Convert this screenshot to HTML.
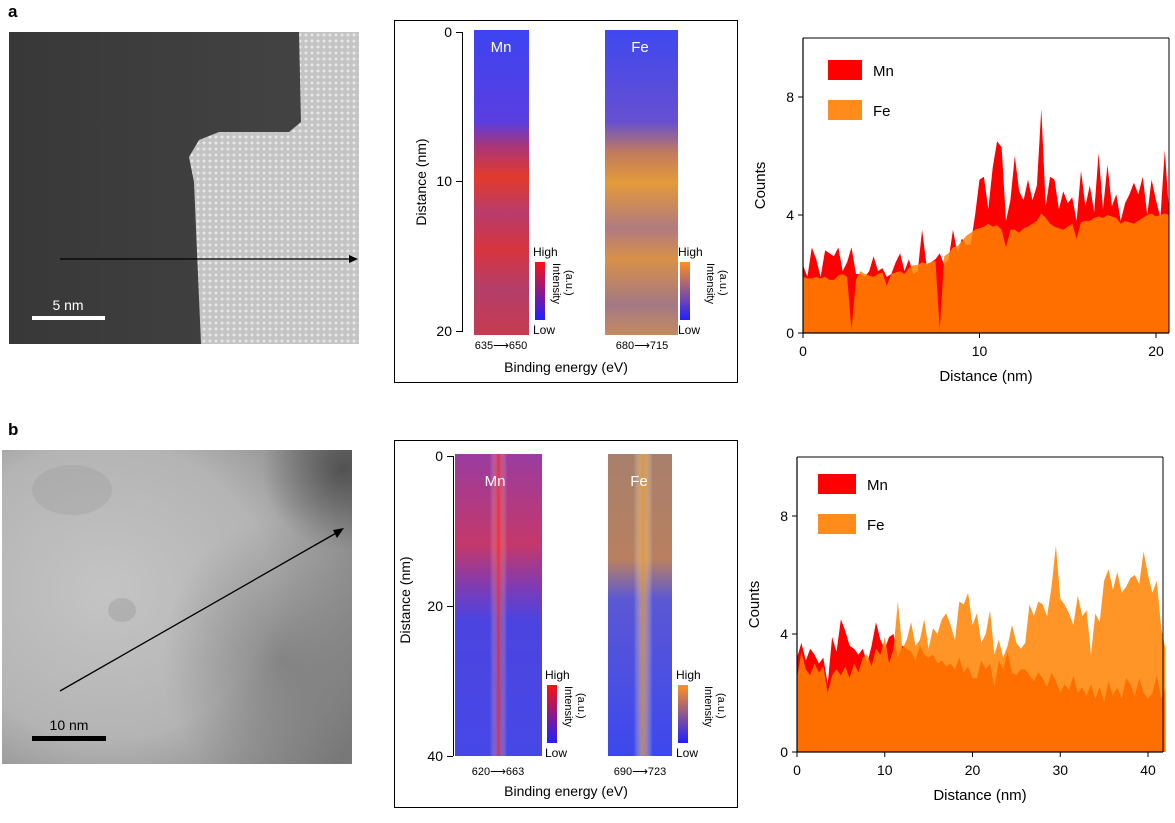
<!DOCTYPE html>
<html><head><meta charset="utf-8"><style>
body{margin:0;background:#fff;font-family:"Liberation Sans",sans-serif;}
#root{position:relative;width:1175px;height:823px;overflow:hidden;}
.abs{position:absolute;}
</style></head><body>
<div id="root">
<div class="abs" style="left:8px;top:2px;font-weight:bold;font-size:17px">a</div>
<div class="abs" style="left:8px;top:420px;font-weight:bold;font-size:17px">b</div>

<svg class="abs" style="left:9px;top:32px" width="350" height="312">
<defs>
<pattern id="lat" width="6" height="6" patternUnits="userSpaceOnUse"><rect width="6" height="6" fill="#c4c4c4"/><circle cx="3" cy="3" r="1.5" fill="#e8e8e8"/></pattern>
<linearGradient id="dk" x1="0" x2="1"><stop offset="0" stop-color="#383838"/><stop offset="1" stop-color="#454545"/></linearGradient>
</defs>
<rect width="350" height="312" fill="url(#dk)"/>
<path d="M290,0 L350,0 L350,312 L192,312 L185,150 L180,125 L190,108 L210,100 L280,100 L292,90 Z" fill="url(#lat)"/>
<line x1="51" y1="227" x2="343" y2="227" stroke="#000" stroke-width="1.3"/>
<path d="M349,227 L340,223 L340,231 Z" fill="#000"/>
<rect x="23" y="284" width="73" height="4" fill="#fff"/>
<text x="59" y="278" fill="#fff" font-size="14" text-anchor="middle" font-family="Liberation Sans">5 nm</text>
</svg>

<svg class="abs" style="left:2px;top:450px" width="350" height="314">
<defs>
<radialGradient id="lg" cx="0.3" cy="0.45" r="0.85"><stop offset="0" stop-color="#c4c4c4"/><stop offset="0.55" stop-color="#b4b4b4"/><stop offset="1" stop-color="#7a7a7a"/></radialGradient>
<radialGradient id="dr" cx="0.5" cy="0.5" r="0.5"><stop offset="0" stop-color="#606060" stop-opacity="0.5"/><stop offset="1" stop-color="#606060" stop-opacity="0"/></radialGradient>
<radialGradient id="dr2" cx="0.5" cy="0.5" r="0.5"><stop offset="0" stop-color="#303030" stop-opacity="0.6"/><stop offset="1" stop-color="#303030" stop-opacity="0"/></radialGradient>
</defs>
<rect width="350" height="314" fill="url(#lg)"/>
<ellipse cx="280" cy="210" rx="120" ry="140" fill="url(#dr)"/>
<ellipse cx="340" cy="20" rx="80" ry="80" fill="url(#dr2)"/>
<ellipse cx="120" cy="160" rx="14" ry="12" fill="#8a8a8a" opacity="0.3"/>
<ellipse cx="70" cy="40" rx="40" ry="25" fill="#999" opacity="0.3"/>
<line x1="58" y1="241" x2="336" y2="82" stroke="#000" stroke-width="1.3"/>
<path d="M342,78 L331,80 L335,88 Z" fill="#000"/>
<rect x="30" y="286" width="74" height="5" fill="#000"/>
<text x="67" y="280" fill="#000" font-size="14" text-anchor="middle" font-family="Liberation Sans">10 nm</text>
</svg>

<svg class="abs" style="left:0;top:0" width="1175" height="823">
<defs>
<linearGradient id="mnA" x1="0" y1="0" x2="0" y2="1">
<stop offset="0" stop-color="#3d44f2"/><stop offset="0.3" stop-color="#5a3ee0"/><stop offset="0.38" stop-color="#a8357a"/><stop offset="0.48" stop-color="#e23a2c"/><stop offset="0.6" stop-color="#b83c6a"/><stop offset="0.72" stop-color="#d6343e"/><stop offset="0.85" stop-color="#b33e6a"/><stop offset="1" stop-color="#c83a50"/></linearGradient>
<linearGradient id="feA" x1="0" y1="0" x2="0" y2="1">
<stop offset="0" stop-color="#3f48f0"/><stop offset="0.3" stop-color="#6650d0"/><stop offset="0.4" stop-color="#c07a60"/><stop offset="0.5" stop-color="#e49a3a"/><stop offset="0.65" stop-color="#b07a80"/><stop offset="0.75" stop-color="#d89048"/><stop offset="0.9" stop-color="#a47884"/><stop offset="1" stop-color="#c48a60"/></linearGradient>
<linearGradient id="mnB" x1="0" y1="0" x2="0" y2="1">
<stop offset="0" stop-color="#9a3ca0"/><stop offset="0.3" stop-color="#c4386a"/><stop offset="0.45" stop-color="#7a3cb8"/><stop offset="0.55" stop-color="#4c44e0"/><stop offset="1" stop-color="#4648e6"/></linearGradient>
<linearGradient id="feB" x1="0" y1="0" x2="0" y2="1">
<stop offset="0" stop-color="#a8806c"/><stop offset="0.35" stop-color="#b88060"/><stop offset="0.48" stop-color="#5c58d4"/><stop offset="1" stop-color="#3c48ee"/></linearGradient>
<linearGradient id="vstripe" x1="0" y1="0" x2="1" y2="0">
<stop offset="0" stop-color="#fff" stop-opacity="0"/><stop offset="0.4" stop-color="#fff" stop-opacity="0"/><stop offset="0.5" stop-color="#ff3020" stop-opacity="0.6"/><stop offset="0.6" stop-color="#fff" stop-opacity="0"/></linearGradient>
<linearGradient id="vstripeO" x1="0" y1="0" x2="1" y2="0">
<stop offset="0" stop-color="#fff" stop-opacity="0"/><stop offset="0.4" stop-color="#fff" stop-opacity="0"/><stop offset="0.55" stop-color="#f0a030" stop-opacity="0.7"/><stop offset="0.7" stop-color="#fff" stop-opacity="0"/></linearGradient>
<linearGradient id="cbR" x1="0" y1="0" x2="0" y2="1"><stop offset="0" stop-color="#ff1010"/><stop offset="1" stop-color="#2020ff"/></linearGradient>
<linearGradient id="cbO" x1="0" y1="0" x2="0" y2="1"><stop offset="0" stop-color="#ff9020"/><stop offset="1" stop-color="#2020ff"/></linearGradient>
</defs>
<g>
<rect x="394.5" y="20.5" width="343" height="362" fill="none" stroke="#000"/>
<rect x="474" y="30" width="55" height="305" fill="url(#mnA)"/>
<rect x="605" y="30" width="73" height="305" fill="url(#feA)"/>
<line x1="462.5" y1="32" x2="462.5" y2="332" stroke="#000"/>
<line x1="456" y1="32.5" x2="462" y2="32.5" stroke="#000"/><line x1="456" y1="181.5" x2="462" y2="181.5" stroke="#000"/><line x1="456" y1="331.5" x2="462" y2="331.5" stroke="#000"/>
<text x="452" y="37" font-size="14" text-anchor="end">0</text><text x="452" y="186" font-size="14" text-anchor="end">10</text><text x="452" y="336" font-size="14" text-anchor="end">20</text>
<text transform="translate(426,182) rotate(-90)" font-size="14" text-anchor="middle">Distance (nm)</text>
<text x="501" y="52" font-size="15" fill="#fff" text-anchor="middle">Mn</text>
<text x="640" y="52" font-size="15" fill="#fff" text-anchor="middle">Fe</text>
<text x="501" y="349" font-size="11" text-anchor="middle">635⟶650</text>
<text x="642" y="349" font-size="11" text-anchor="middle">680⟶715</text>
<text x="566" y="372" font-size="14" text-anchor="middle">Binding energy (eV)</text>
<rect x="535" y="262" width="10" height="58" fill="url(#cbR)"/>
<text x="533" y="256" font-size="12">High</text><text x="533" y="334" font-size="12">Low</text>
<text transform="translate(553,263) rotate(90)" font-size="11">Intensity</text><text transform="translate(566,270) rotate(90)" font-size="11">(a.u.)</text>
<rect x="680" y="262" width="10" height="58" fill="url(#cbO)"/>
<text x="678" y="256" font-size="12">High</text><text x="678" y="334" font-size="12">Low</text>
<text transform="translate(707,263) rotate(90)" font-size="11">Intensity</text><text transform="translate(720,270) rotate(90)" font-size="11">(a.u.)</text>
</g>
<g>
<rect x="394.5" y="440.5" width="343" height="367" fill="none" stroke="#000"/>
<rect x="455" y="454" width="87" height="302" fill="url(#mnB)"/>
<rect x="455" y="454" width="87" height="302" fill="url(#vstripe)"/>
<rect x="608" y="454" width="64" height="302" fill="url(#feB)"/>
<rect x="608" y="454" width="64" height="302" fill="url(#vstripeO)"/>
<line x1="453.5" y1="456" x2="453.5" y2="756" stroke="#000"/>
<line x1="447" y1="456.5" x2="453" y2="456.5" stroke="#000"/><line x1="447" y1="606.5" x2="453" y2="606.5" stroke="#000"/><line x1="447" y1="756.5" x2="453" y2="756.5" stroke="#000"/>
<text x="443" y="461" font-size="14" text-anchor="end">0</text><text x="443" y="611" font-size="14" text-anchor="end">20</text><text x="443" y="761" font-size="14" text-anchor="end">40</text>
<text transform="translate(410,600) rotate(-90)" font-size="14" text-anchor="middle">Distance (nm)</text>
<text x="495" y="486" font-size="15" fill="#fff" text-anchor="middle">Mn</text>
<text x="639" y="486" font-size="15" fill="#fff" text-anchor="middle">Fe</text>
<text x="498" y="775" font-size="11" text-anchor="middle">620⟶663</text>
<text x="640" y="775" font-size="11" text-anchor="middle">690⟶723</text>
<text x="566" y="796" font-size="14" text-anchor="middle">Binding energy (eV)</text>
<rect x="547" y="685" width="10" height="58" fill="url(#cbR)"/>
<text x="545" y="679" font-size="12">High</text><text x="545" y="757" font-size="12">Low</text>
<text transform="translate(565,686) rotate(90)" font-size="11">Intensity</text><text transform="translate(578,693) rotate(90)" font-size="11">(a.u.)</text>
<rect x="678" y="685" width="10" height="58" fill="url(#cbO)"/>
<text x="676" y="679" font-size="12">High</text><text x="676" y="757" font-size="12">Low</text>
<text transform="translate(705,686) rotate(90)" font-size="11">Intensity</text><text transform="translate(718,693) rotate(90)" font-size="11">(a.u.)</text>
</g>
</svg>

<svg id="chartA" class="abs" style="left:0;top:0" width="1175" height="823"></svg>

<script>
const xA = [];
const mnA = [2.3,1.9,2.9,2.5,1.9,2.8,2.7,2.6,2.9,2.1,2.4,2.9,2.0,2.0,1.9,2.1,2.6,2.1,2.2,1.9,2.0,2.4,2.7,2.1,2.5,2.0,2.1,3.5,2.3,2.4,2.5,2.7,2.3,2.5,3.5,2.7,3.2,3.0,3.0,4.0,5.2,5.3,4.2,5.6,6.5,6.3,3.8,4.5,6.0,4.8,4.5,5.2,4.5,5.0,7.6,4.3,5.3,5.2,4.2,4.8,4.4,4.6,3.8,5.5,4.3,5.0,4.1,6.1,4.2,5.7,4.3,4.7,3.8,4.4,4.7,5.1,4.7,5.3,4.0,5.2,4.5,3.9,6.2,4.0];
const feA = [1.9,1.85,1.85,1.9,1.85,1.9,1.8,1.8,1.95,2.0,1.9,0.1,1.8,2.1,2.0,1.95,1.9,2.0,2.05,1.6,2.0,2.05,2.1,2.0,2.2,2.3,2.3,2.4,2.35,2.4,2.45,0.1,2.6,2.7,2.9,2.95,3.1,3.3,3.4,3.5,3.55,3.6,3.7,3.6,3.65,3.5,2.9,3.5,3.5,3.4,3.55,3.6,3.7,3.8,4.05,3.9,3.7,3.6,3.55,3.5,3.6,3.7,3.2,3.75,3.8,3.8,3.9,3.95,3.9,4.0,3.95,3.9,3.7,3.8,3.75,3.7,3.8,3.9,4.0,4.05,3.95,4.0,4.05,4.0];
for (let i=0;i<mnA.length;i++) xA.push(i*0.25);
const mnB = [3.2,3.7,3.1,3.5,3.3,3.0,3.2,2.3,3.9,3.4,4.5,4.1,3.6,3.5,3.3,3.5,3.0,3.6,4.4,3.8,3.5,3.9,4.0,3.2,3.6,3.5,3.4,3.1,3.6,3.3,3.2,3.3,3.0,3.1,2.9,3.0,2.8,3.2,2.7,2.9,2.5,2.5,3.1,2.8,3.0,2.2,3.1,2.8,3.4,2.7,2.6,2.8,2.8,2.6,2.4,2.7,2.5,2.2,2.7,2.4,2.0,2.3,2.1,2.6,2.0,2.2,1.9,2.3,1.8,2.2,1.7,2.4,1.9,2.2,1.8,2.5,2.3,1.9,2.5,2.0,1.8,2.0,2.6,1.8,2.2];
const feB = [2.5,3.4,2.8,2.6,3.0,2.7,2.9,2.0,2.6,2.8,2.6,2.9,2.5,3.0,2.7,3.2,3.3,2.9,3.5,3.3,3.9,3.0,3.5,5.1,3.5,3.8,4.4,3.6,3.8,4.5,3.5,4.2,4.0,4.5,4.7,4.3,3.8,5.1,5.0,5.4,4.3,4.7,3.7,4.0,4.8,3.3,3.8,3.2,3.6,4.3,3.7,3.5,3.7,5.0,4.6,5.1,5.0,4.6,5.6,7.0,5.2,5.0,4.7,4.3,5.3,4.6,4.8,3.3,4.7,4.4,5.8,6.2,5.5,6.1,5.4,5.6,5.9,6.0,5.7,6.8,6.0,5.4,5.8,4.2,3.5];
const xB = [];
for (let i=0;i<mnB.length;i++) xB.push(i*0.5);
const ticksA = [0,10,20], ticksB = [0,10,20,30,40], yTicks = [0,4,8];

const NS='http://www.w3.org/2000/svg';
const svg=document.getElementById('chartA');
function mk(tag,attrs,parent){const e=document.createElementNS(NS,tag);for(const k in attrs)e.setAttribute(k,attrs[k]);(parent||svg).appendChild(e);return e;}

function drawChart(cfg){
  const sx=v=>cfg.x0+(v-0)*(cfg.x1-cfg.x0)/cfg.xspan;
  const sy=v=>cfg.y0-v*(cfg.y0-cfg.y8)/8;
  const g=mk('g',{});
  
  
  function area(xs,ys,fill,op,nm){
    let d='M'+sx(xs[0])+','+sy(0);
    for(let i=0;i<xs.length;i++) d+=' L'+sx(xs[i]).toFixed(1)+','+sy(ys[i]).toFixed(1);
    d+=' L'+sx(xs[xs.length-1])+','+sy(0)+' Z';
    const p=mk('path',{d:d,fill:fill,'fill-opacity':op},g);
    
    
  }
  area(cfg.xs,cfg.mn,'#ff0000',1,'mn-area');
  area(cfg.xs,cfg.fe,'#ff8200',0.85,'fe-area');
  const right=cfg.right;
  mk('line',{x1:cfg.x0,y1:cfg.top,x2:cfg.x0,y2:cfg.y0,stroke:'#000','stroke-width':1.2},g);
  mk('line',{x1:cfg.x0,y1:cfg.y0,x2:right,y2:cfg.y0,stroke:'#000','stroke-width':1.2},g);
  mk('line',{x1:right,y1:cfg.top,x2:right,y2:cfg.y0,stroke:'#000','stroke-width':1},g);
  mk('line',{x1:cfg.x0,y1:cfg.top,x2:right,y2:cfg.top,stroke:'#000','stroke-width':1},g);
  for(const t of yTicks){
    mk('line',{x1:cfg.x0-5,y1:sy(t),x2:cfg.x0,y2:sy(t),stroke:'#000'},g);
    const tx=mk('text',{x:cfg.x0-9,y:sy(t)+5,'font-size':14,'text-anchor':'end'},g);tx.textContent=t;
  }
  for(const t of cfg.xt){
    mk('line',{x1:sx(t),y1:cfg.y0,x2:sx(t),y2:cfg.y0+5,stroke:'#000'},g);
    const tx=mk('text',{x:sx(t),y:cfg.y0+23,'font-size':14,'text-anchor':'middle'},g);tx.textContent=t;
  }
  const yl=mk('text',{transform:'translate('+(cfg.x0-38)+','+((cfg.top+cfg.y0)/2)+') rotate(-90)','font-size':15,'text-anchor':'middle'},g);yl.textContent='Counts';
  
  const xl=mk('text',{x:(cfg.x0+right)/2,y:cfg.y0+48,'font-size':15,'text-anchor':'middle'},g);xl.textContent='Distance (nm)';
  
  const l1=mk('rect',{x:cfg.lx,y:cfg.ly,width:cfg.lw,height:20,fill:'#ff0000'},g);
  
  const t1=mk('text',{x:cfg.lx+cfg.lw+11,y:cfg.ly+16,'font-size':15},g);t1.textContent='Mn';
  const l2=mk('rect',{x:cfg.lx,y:cfg.ly+40,width:cfg.lw,height:20,fill:'#ff8c1a'},g);
  
  const t2=mk('text',{x:cfg.lx+cfg.lw+11,y:cfg.ly+56,'font-size':15},g);t2.textContent='Fe';
}
drawChart({name:'chart-a',xs:xA,mn:mnA,fe:feA,x0:803,x1:1156,xspan:20,y0:333,y8:97,top:38,right:1169,xt:ticksA,lx:828,ly:60,lw:34});
drawChart({name:'chart-b',xs:xB,mn:mnB,fe:feB,x0:797,x1:1148,xspan:40,y0:752,y8:516,top:457,right:1163,xt:ticksB,lx:818,ly:474,lw:38});
</script>
</div>
</body></html>
